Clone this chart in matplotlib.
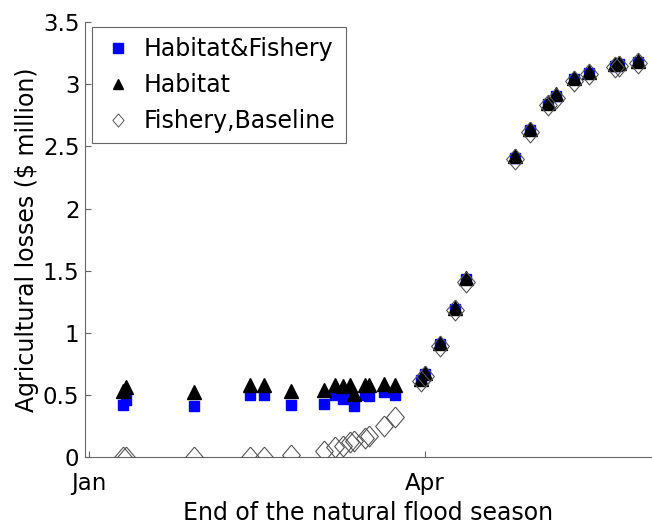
import matplotlib
matplotlib.use('Agg')
import matplotlib.pyplot as plt
from matplotlib.lines import Line2D

# Day of year (Jan 1 = 0) at which the natural flood season ends
days = [9, 10, 28, 43, 47, 54, 63, 66, 68, 70, 71, 74, 75, 79, 82,
        89, 90, 94, 98, 101, 114, 118, 123, 125, 130, 134, 141, 142, 147]

habitat_fishery = [0.42, 0.46, 0.41, 0.50, 0.50, 0.42, 0.43, 0.50, 0.47, 0.51,
                   0.41, 0.50, 0.49, 0.52, 0.50,
                   0.62, 0.67, 0.91, 1.19, 1.43, 2.41, 2.63, 2.84, 2.91,
                   3.04, 3.09, 3.15, 3.16, 3.18]

habitat = [0.53, 0.56, 0.52, 0.58, 0.58, 0.53, 0.54, 0.58, 0.57, 0.58,
           0.51, 0.58, 0.58, 0.59, 0.58,
           0.63, 0.68, 0.92, 1.20, 1.44, 2.42, 2.64, 2.85, 2.92,
           3.05, 3.10, 3.16, 3.17, 3.19]

fishery_baseline = [0.0, 0.0, 0.0, 0.0, 0.0, 0.02, 0.05, 0.08, 0.09, 0.12,
                    0.13, 0.15, 0.17, 0.25, 0.32,
                    0.61, 0.65, 0.89, 1.18, 1.41, 2.40, 2.62, 2.83, 2.89,
                    3.03, 3.08, 3.14, 3.15, 3.17]

month_ticks = [0, 90]
month_labels = ['Jan', 'Apr']
y_ticks = [0, 0.5, 1, 1.5, 2, 2.5, 3, 3.5]
y_tick_labels = ['0', '0.5', '1', '1.5', '2', '2.5', '3', '3.5']

plt.rcParams['font.family'] = ['DejaVu Sans']

fig = plt.figure(figsize=(6.52, 5.29), dpi=100)
ax = fig.add_axes([0.1304, 0.136, 0.8696, 0.822])

diamond = [(0, 1), (0.85, 0), (0, -1), (-0.85, 0), (0, 1)]

ax.plot(days, habitat_fishery, linestyle='none', marker='s', markersize=7.8,
        markerfacecolor='#0000ff', markeredgecolor='#0000ff', zorder=3)
ax.plot(days, habitat, linestyle='none', marker='^', markersize=9.5,
        markerfacecolor='black', markeredgecolor='black', zorder=4)
ax.plot(days, fishery_baseline, linestyle='none', marker=diamond, markersize=15,
        markerfacecolor='none', markeredgecolor='#555555', markeredgewidth=0.8,
        zorder=5)

ax.set_xlim(-1.07, 150.8)
ax.set_ylim(0, 3.5)
ax.set_xticks(month_ticks)
ax.set_xticklabels(month_labels)
ax.set_yticks(y_ticks)
ax.set_yticklabels(y_tick_labels)

for s in ['top', 'right']:
    ax.spines[s].set_visible(False)
for s in ['left', 'bottom']:
    ax.spines[s].set_color('#666666')
    ax.spines[s].set_linewidth(0.8)
ax.tick_params(direction='in', length=4, width=0.8, color='#666666',
               labelsize=16.5, labelcolor='black')
ax.tick_params(axis='y', pad=4)
ax.tick_params(axis='x', pad=11)

ax.set_xlabel('End of the natural flood season', fontsize=17, labelpad=4)
ax.set_ylabel('Agricultural losses ($ million)', fontsize=17, labelpad=3)

handles = [
    Line2D([], [], linestyle='none', marker='s', markersize=6.5,
           markerfacecolor='#0000ff', markeredgecolor='#0000ff'),
    Line2D([], [], linestyle='none', marker='^', markersize=7.5,
           markerfacecolor='black', markeredgecolor='black'),
    Line2D([], [], linestyle='none', marker=diamond, markersize=9.5,
           markerfacecolor='none', markeredgecolor='#555555',
           markeredgewidth=0.7),
]
labels = ['Habitat&Fishery', 'Habitat', 'Fishery,Baseline']
leg = ax.legend(handles, labels, loc='upper left',
                bbox_to_anchor=(0.012, 0.99), fontsize=17,
                frameon=True, fancybox=False, framealpha=1,
                edgecolor='#666666', handlelength=1.3, handletextpad=0.45,
                labelspacing=0.5, borderpad=0.45, borderaxespad=0)
leg.get_frame().set_linewidth(0.8)

fig.savefig('out.png', dpi=100)
